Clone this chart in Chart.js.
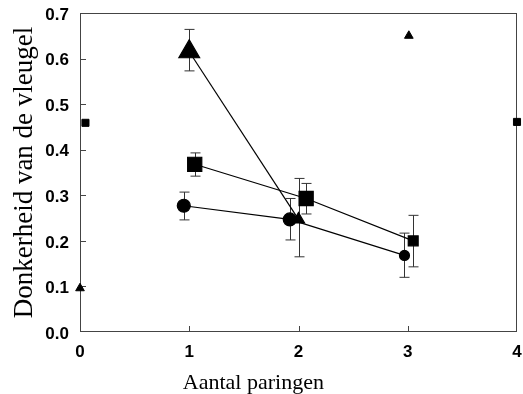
<!DOCTYPE html>
<html>
<head>
<meta charset="utf-8">
<script src="https://cdn.jsdelivr.net/npm/chart.js@4/dist/chart.umd.min.js"></script>
<style>
  body { margin: 0; background: #fff; }
  #wrap { width: 523px; height: 394px; }
</style>
</head>
<body>
<div id="wrap"><canvas id="myChart"></canvas></div>
<script>
// values
var xTicks = [0, 1, 2, 3, 4];
var xTitle = 'Aantal paringen';

var circleX = [0.95, 1.92, 2.97];
var circleY = [0.277, 0.247, 0.168];
var circleLo = [0.246, 0.202, 0.120];
var circleHi = [0.307, 0.293, 0.217];

var squareX = [1.05, 2.07, 3.05];
var squareY = [0.368, 0.293, 0.200];
var squareLo = [0.342, 0.259, 0.143];
var squareHi = [0.393, 0.326, 0.256];

var triangleX = [1.0, 2.0];
var triangleY = [0.615, 0.247];
var triangleLo = [0.573, 0.165];
var triangleHi = [0.664, 0.337];

// the small loose markers
var smallSquareX = [0.05, 4.0];
var smallSquareY = [0.459, 0.461];
var smallTriangleX = [0.0, 3.01];
var smallTriangleY = [0.096, 0.65];

function points(xs, ys) {
    var out = [];
    for (var i = 0; i < xs.length; i++) out.push({ x: xs[i], y: ys[i] });
    return out;
}

var errorBars = [
    { x: circleX, lo: circleLo, hi: circleHi },
    { x: squareX, lo: squareLo, hi: squareHi },
    { x: triangleX, lo: triangleLo, hi: triangleHi }
];

function noPad(s) {
    s.paddingTop = 0; s.paddingBottom = 0; s.paddingLeft = 0; s.paddingRight = 0;
}

var frame = {
    id: 'frame',
    beforeDatasetsDraw: function(chart) {
        var c = chart.ctx, a = chart.chartArea;
        var xs = chart.scales.x, ys = chart.scales.y;
        c.save();
        // error bars
        c.strokeStyle = '#333';
        c.lineWidth = 1;
        errorBars.forEach(function(e) {
            for (var i = 0; i < e.x.length; i++) {
                var px = Math.round(xs.getPixelForValue(e.x[i])) + 0.5;
                var top = ys.getPixelForValue(e.hi[i]);
                var bot = ys.getPixelForValue(e.lo[i]);
                c.beginPath();
                c.moveTo(px, top); c.lineTo(px, bot);
                c.moveTo(px - 5, top); c.lineTo(px + 5, top);
                c.moveTo(px - 5, bot); c.lineTo(px + 5, bot);
                c.stroke();
            }
        });
        // box
        c.strokeStyle = '#444';
        c.strokeRect(a.left + 0.5, a.top + 0.5, a.right - a.left - 1, a.bottom - a.top - 1);
        // inward ticks
        c.beginPath();
        for (var v = 0.1; v < 0.69; v += 0.1) {
            var py = Math.round(ys.getPixelForValue(v)) + 0.5;
            c.moveTo(a.left, py); c.lineTo(a.left + 6, py);
        }
        for (var k = 1; k < 4; k++) {
            var tx = Math.round(xs.getPixelForValue(k)) + 0.5;
            c.moveTo(tx, a.bottom); c.lineTo(tx, a.bottom - 6);
        }
        c.stroke();
        // x title sits left of the axis centre in the original
        c.fillStyle = '#000';
        c.font = '22px "Liberation Serif"';
        c.textAlign = 'center';
        c.textBaseline = 'middle';
        c.fillText(xTitle, xs.getPixelForValue(1.587), a.bottom + 51);
        c.restore();
    }
};

var ctx = document.getElementById('myChart');
var myChart = new Chart(ctx, {
    type: 'scatter',
    data: {
        datasets: [{
            label: 'circle',
            data: points(circleX, circleY),
            showLine: true,
            pointStyle: 'circle',
            pointRadius: [6.5, 6.5, 5],
            borderColor: '#000',
            backgroundColor: '#000',
            borderWidth: 1.2
        }, {
            label: 'square',
            data: points(squareX, squareY),
            showLine: true,
            pointStyle: 'rect',
            pointRadius: [10, 10, 7],
            borderColor: '#000',
            backgroundColor: '#000',
            borderWidth: 1.2
        }, {
            label: 'triangle',
            data: points(triangleX, triangleY),
            showLine: true,
            pointStyle: 'triangle',
            pointRadius: [12, 7],
            borderColor: '#000',
            backgroundColor: '#000',
            borderWidth: 1.2
        }, {
            label: 'small square',
            data: points(smallSquareX, smallSquareY),
            pointStyle: 'rect',
            pointRadius: 5,
            borderColor: '#000',
            backgroundColor: '#000'
        }, {
            label: 'small triangle',
            data: points(smallTriangleX, smallTriangleY),
            pointStyle: 'triangle',
            pointRadius: 5,
            borderColor: '#000',
            backgroundColor: '#000'
        }]
    },
    options: {
        responsive: true,
        maintainAspectRatio: false,
        animation: false,
        clip: false,
        layout: { autoPadding: false, padding: { left: 0, right: 6, top: 13, bottom: 0 } },
        plugins: {
            legend: { display: false },
            tooltip: { enabled: false }
        },
        scales: {
            x: {
                type: 'linear',
                min: 0,
                max: 4,
                afterBuildTicks: function(s) { s.ticks = xTicks.map(function(v) { return { value: v }; }); },
                afterFit: function(s) { s.height = 62; noPad(s); },
                grid: { display: false, drawTicks: false },
                border: { display: false },
                ticks: {
                    color: '#000',
                    padding: 10,
                    font: { family: 'Liberation Sans', size: 17, weight: 'bold' }
                }
            },
            y: {
                min: 0,
                max: 0.7,
                afterFit: function(s) { s.width = 80; noPad(s); },
                grid: { display: false, drawTicks: false },
                border: { display: false },
                ticks: {
                    stepSize: 0.1,
                    color: '#000',
                    padding: 11,
                    labelOffset: 2,
                    font: { family: 'Liberation Sans', size: 17, weight: 'bold' },
                    callback: function(v) { return v.toFixed(1); }
                },
                title: {
                    display: true,
                    text: 'Donkerheid van de vleugel',
                    color: '#000',
                    padding: { top: 9, bottom: 0 },
                    font: { family: 'Liberation Serif', size: 27 }
                }
            }
        }
    },
    plugins: [frame]
});
</script>
</body>
</html>
